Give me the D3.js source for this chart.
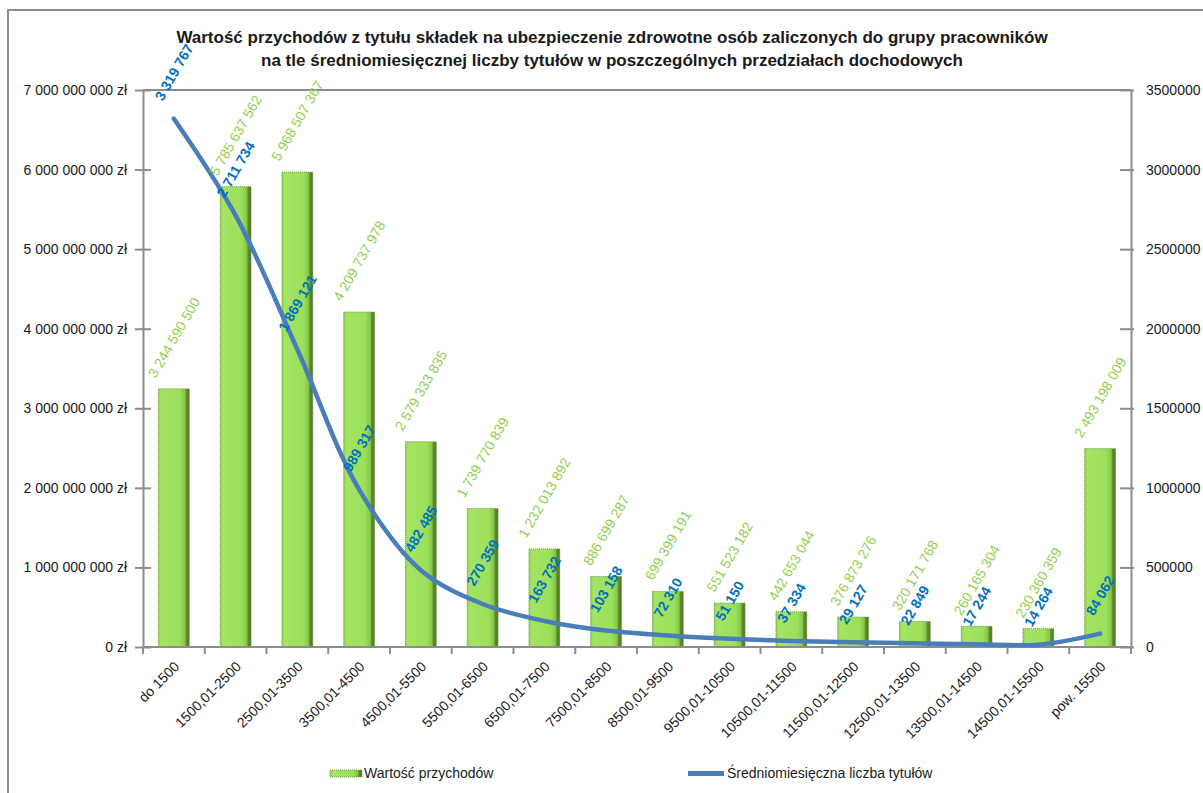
<!DOCTYPE html>
<html><head><meta charset="utf-8">
<script src="https://cdn.jsdelivr.net/npm/d3@7"></script>
<style>
body{margin:0;background:#fff}
svg{display:block}
text{font-family:"Liberation Sans",Arial,sans-serif}
</style>
</head><body>
<svg id="chart" width="1203" height="793"></svg>
<script>
const categories = ["do 1500","1500,01-2500","2500,01-3500","3500,01-4500","4500,01-5500","5500,01-6500","6500,01-7500","7500,01-8500","8500,01-9500","9500,01-10500","10500,01-11500","11500,01-12500","12500,01-13500","13500,01-14500","14500,01-15500","pow. 15500"];
const revenue = [3244590500,5785637562,5968507367,4209737978,2579333835,1739770839,1232013892,886699287,699399191,551523182,442653044,376873276,320171768,260165304,230360359,2493198009];
const titlesCount = [3319767,2711734,1869121,989317,482485,270359,163732,103158,72310,51150,37334,29127,22849,17244,14264,84062];
const leftTicks = [0,1000000000,2000000000,3000000000,4000000000,5000000000,6000000000,7000000000];
const rightTicks = [0,500000,1000000,1500000,2000000,2500000,3000000,3500000];
const titleLines = ["Wartość przychodów z tytułu składek na ubezpieczenie zdrowotne osób zaliczonych do grupy pracowników","na tle średniomiesięcznej liczby tytułów w poszczególnych przedziałach dochodowych"];
const seriesNames = ["Wartość przychodów","Średniomiesięczna liczba tytułów"];

const svg = d3.select("#chart");
const L = 143, R = 1131, T = 90, B = 647;
const axisColor = "#8c8c8c";
const green = "#92d050", blue = "#0070c0", lineBlue = "#4a7ebb";

const loc = d3.formatLocale({decimal:",", thousands:"\u00a0", grouping:[3], currency:["",""]});
const fmt = loc.format(",.0f");

const x = d3.scaleBand().domain(categories).range([L, R]).paddingInner(0.5).paddingOuter(0.25);
const yL = d3.scaleLinear().domain([0, 7000000000]).range([B, T]);
const yR = d3.scaleLinear().domain([0, 3500000]).range([B, T]);

// defs
const defs = svg.append("defs");
const g1 = defs.append("linearGradient").attr("id","barGrad").attr("x1","0").attr("x2","1").attr("y1","0").attr("y2","0");
[[0,"#8fcf4c"],[0.08,"#a4e464"],[0.7,"#9ce05a"],[0.86,"#86c646"],[0.9,"#5f8f30"],[1,"#4a7622"]].forEach(s=>g1.append("stop").attr("offset",s[0]).attr("stop-color",s[1]));

// outer chart border
svg.append("rect").attr("x",8).attr("y",10).attr("width",1400).attr("height",1000)
  .attr("fill","none").attr("stroke",axisColor).attr("stroke-width",2);

// title
svg.append("g").selectAll("text").data(titleLines).join("text")
  .attr("x",612).attr("y",(d,i)=>43+i*23).attr("text-anchor","middle")
  .attr("font-weight","bold").attr("font-size",17).attr("fill","#1a1a1a").text(d=>d);

// plot frame (top line)
svg.append("line").attr("x1",L).attr("x2",R).attr("y1",T).attr("y2",T).attr("stroke",axisColor).attr("stroke-width",2);

// bars
svg.append("g").selectAll("rect").data(revenue).join("rect")
  .attr("x",(d,i)=>x(categories[i]))
  .attr("y",d=>yL(d))
  .attr("width",x.bandwidth())
  .attr("height",d=>B-yL(d))
  .attr("fill","url(#barGrad)")
  .attr("stroke","#6e9c3e").attr("stroke-width",1).attr("stroke-dasharray","1 1");

// axes
const axL = svg.append("g").attr("transform",`translate(${L},0)`)
  .call(d3.axisLeft(yL).tickValues(leftTicks).tickFormat(d=>fmt(d)+" zł").tickSizeInner(8).tickSizeOuter(0).tickPadding(8));
axL.selectAll(".tick line").attr("x2",-8).attr("x1",8);
const axR = svg.append("g").attr("transform",`translate(${R},0)`)
  .call(d3.axisRight(yR).tickValues(rightTicks).tickFormat(d3.format("d")).tickSizeInner(3).tickSizeOuter(0).tickPadding(12));
axR.selectAll(".tick line").attr("x1",-11).attr("x2",3);
const xTicks = d3.range(categories.length+1).map(i=>L+i*x.step());
const axB = svg.append("g");
axB.append("line").attr("x1",L).attr("x2",R).attr("y1",B).attr("y2",B).attr("stroke",axisColor).attr("stroke-width",2);
axB.selectAll("line.t").data(xTicks).join("line").attr("class","t")
  .attr("x1",d=>d).attr("x2",d=>d).attr("y1",B).attr("y2",B+7).attr("stroke",axisColor).attr("stroke-width",2);
[axL,axR].forEach(a=>{
  a.select(".domain").attr("stroke",axisColor).attr("stroke-width",2);
  a.selectAll(".tick line").attr("stroke",axisColor).attr("stroke-width",2);
  a.selectAll(".tick text").attr("font-size",14).attr("fill","#1a1a1a").style("font-family",'"Liberation Sans",Arial,sans-serif');
});

// x labels
axB.selectAll("text").data(categories).join("text")
  .attr("transform",d=>`translate(${x(d)+x.bandwidth()/2+3},${B+17}) rotate(-45)`)
  .attr("text-anchor","end").attr("dy","0.35em").attr("font-size",14).attr("fill","#1a1a1a").text(d=>d);

// line
const line = d3.line().x((d,i)=>x(categories[i])+x.bandwidth()/2).y(d=>yR(d)).curve(d3.curveCatmullRom.alpha(0.5));
svg.append("path").datum(titlesCount).attr("d",line).attr("fill","none")
  .attr("stroke",lineBlue).attr("stroke-width",4.5).attr("stroke-linejoin","round").attr("stroke-linecap","round");

// rotated labels
const ang = 60*Math.PI/180;
function labels(data, yScale, color, bold, gap, size){
  const g = svg.append("g");
  g.selectAll("text").data(data).join("text")
    .attr("font-size",size).attr("font-weight",bold?"bold":"normal").attr("fill",color)
    .attr("text-anchor","middle").attr("dominant-baseline","central")
    .text(d=>fmt(d))
    .each(function(d,i){
      const len = this.getComputedTextLength();
      const H = len*Math.sin(ang)+size*Math.cos(ang);
      const cx = x(categories[i])+x.bandwidth()/2;
      const cy = yScale(d)-gap-H/2;
      d3.select(this).attr("transform",`translate(${cx},${cy}) rotate(-60)`);
    });
}
labels(revenue, yL, green, false, 9, 14);
labels(titlesCount, yR, blue, true, 16, 14);

// legend
const lg = svg.append("g");
lg.append("rect").attr("x",330).attr("y",770).attr("width",32).attr("height",7).attr("fill","url(#barGrad)").attr("stroke","#6e9c3e").attr("stroke-dasharray","1 1");
lg.append("text").attr("x",364).attr("y",778).attr("font-size",14).attr("fill","#1a1a1a").text(seriesNames[0]);
lg.append("line").attr("x1",688).attr("x2",724).attr("y1",773.5).attr("y2",773.5).attr("stroke",lineBlue).attr("stroke-width",5);
lg.append("text").attr("x",727).attr("y",778).attr("font-size",14).attr("fill","#1a1a1a").text(seriesNames[1]);
</script>
</body></html>
